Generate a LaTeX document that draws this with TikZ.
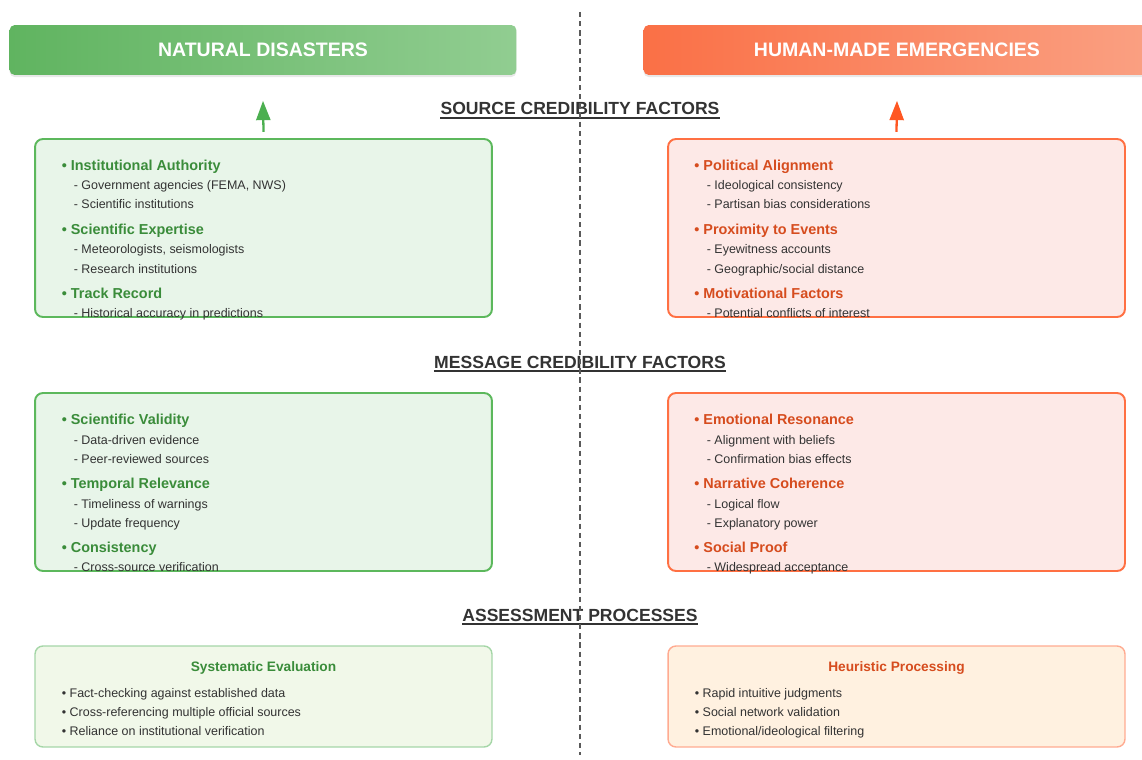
\documentclass[tikz,border=0pt]{standalone}
\usepackage{fontspec}
\setmainfont{Liberation Sans}
\usetikzlibrary{arrows.meta,shadows}

% colours taken from the two sides
\definecolor{natleft}{RGB}{96,180,96}
\definecolor{natright}{RGB}{145,205,145}
\definecolor{humleft}{RGB}{250,112,70}
\definecolor{humright}{RGB}{250,160,130}
\definecolor{natline}{RGB}{92,184,92}
\definecolor{natfill}{RGB}{232,245,233}
\definecolor{humline}{RGB}{255,112,67}
\definecolor{humfill}{RGB}{253,233,231}
\definecolor{natsoft}{RGB}{165,214,167}
\definecolor{natpale}{RGB}{241,248,233}
\definecolor{humsoft}{RGB}{255,171,145}
\definecolor{humpale}{RGB}{255,241,224}
\definecolor{nathead}{RGB}{58,140,58}
\definecolor{humhead}{RGB}{214,76,30}
\definecolor{natarrow}{RGB}{76,175,80}
\definecolor{humarrow}{RGB}{255,87,34}
\definecolor{bodygrey}{RGB}{51,51,51}
\definecolor{splitgrey}{RGB}{90,90,90}

\tikzset{
  headbox/.style={rounded corners=3pt, minimum width=10.14cm, minimum height=1cm,
    text=white, font=\fontsize{11.1}{13}\selectfont\bfseries,
    drop shadow={shadow xshift=0pt, shadow yshift=-1.2pt, opacity=0.18}},
  factorbox/.style={rounded corners=4.5pt, line width=1.1pt,
    minimum width=9.14cm, minimum height=3.56cm},
  procbox/.style={rounded corners=4.5pt, line width=0.8pt,
    minimum width=9.14cm, minimum height=2.02cm},
  sectitle/.style={font=\fontsize{10}{12}\selectfont\bfseries, text=bodygrey,
    inner sep=0pt, anchor=base},
  underline/.style={line width=1.1pt, bodygrey},
  itemhead/.style={font=\fontsize{8.2}{10}\selectfont\bfseries, anchor=base west, inner sep=0pt},
  itemsub/.style={font=\fontsize{7.1}{9}\selectfont, text=bodygrey, anchor=base west, inner sep=0pt},
  proctitle/.style={font=\fontsize{7.8}{9}\selectfont\bfseries, anchor=base, inner sep=0pt},
  uparrow/.style={line width=1.3pt, -{Triangle[length=11pt, width=8pt]}},
  divider/.style={line width=1.1pt, splitgrey, dash pattern=on 3pt off 2.2pt},
}

\begin{document}
\begin{tikzpicture}[x=0.02cm, y=-0.02cm]
  \useasboundingbox (0,0) rectangle (1142,760);

  % --- headers ---
  \node[headbox, left color=natleft, right color=natright] (natHead) at (263,50) {NATURAL DISASTERS};
  \node[headbox, left color=humleft, right color=humright] (humHead) at (897,50) {HUMAN-MADE EMERGENCIES};

  % --- source credibility ---
  \node[sectitle] (srcTitle) at (580,115) {SOURCE CREDIBILITY FACTORS};
  \draw[underline] ([yshift=-1.4pt]srcTitle.south west) -- ([yshift=-1.4pt]srcTitle.south east);

  \node[factorbox, draw=natline, fill=natfill] (srcL) at (263.5,228) {};
  \node[factorbox, draw=humline, fill=humfill] (srcR) at (896.5,228) {};

  \draw[uparrow, natarrow] ([yshift=3.5pt]srcL.north) -- ([yshift=-14.5pt]natHead.south);
  \draw[uparrow, humarrow] ([yshift=3.5pt]srcR.north) -- ([yshift=-14.5pt]humHead.south);

  \node[itemhead, text=nathead] (srcL1) at (61.5,170.7) {\textbullet\ Institutional Authority};
  \node[itemsub] (srcL1a) at (73.5,190) {- Government agencies (FEMA, NWS)};
  \node[itemsub] (srcL1b) at (73.5,209) {- Scientific institutions};
  \node[itemhead, text=nathead] (srcL2) at (61.5,234.7) {\textbullet\ Scientific Expertise};
  \node[itemsub] (srcL2a) at (73.5,254) {- Meteorologists, seismologists};
  \node[itemsub] (srcL2b) at (73.5,273) {- Research institutions};
  \node[itemhead, text=nathead] (srcL3) at (61.5,298.5) {\textbullet\ Track Record};
  \node[itemsub] (srcL3a) at (73.5,317) {- Historical accuracy in predictions};

  \node[itemhead, text=humhead] (srcR1) at (694,170.7) {\textbullet\ Political Alignment};
  \node[itemsub] (srcR1a) at (706.5,190) {- Ideological consistency};
  \node[itemsub] (srcR1b) at (706.5,209) {- Partisan bias considerations};
  \node[itemhead, text=humhead] (srcR2) at (694,234.7) {\textbullet\ Proximity to Events};
  \node[itemsub] (srcR2a) at (706.5,254) {- Eyewitness accounts};
  \node[itemsub] (srcR2b) at (706.5,273) {- Geographic/social distance};
  \node[itemhead, text=humhead] (srcR3) at (694,298.5) {\textbullet\ Motivational Factors};
  \node[itemsub] (srcR3a) at (706.5,317) {- Potential conflicts of interest};

  % --- message credibility ---
  \node[sectitle] (msgTitle) at (580,368) {MESSAGE CREDIBILITY FACTORS};
  \draw[underline] ([yshift=-1.4pt]msgTitle.south west) -- ([yshift=-1.4pt]msgTitle.south east);

  \node[factorbox, draw=natline, fill=natfill] (msgL) at (263.5,482) {};
  \node[factorbox, draw=humline, fill=humfill] (msgR) at (896.5,482) {};

  \node[itemhead, text=nathead] (msgL1) at (61.5,424.7) {\textbullet\ Scientific Validity};
  \node[itemsub] (msgL1a) at (73.5,444) {- Data-driven evidence};
  \node[itemsub] (msgL1b) at (73.5,463) {- Peer-reviewed sources};
  \node[itemhead, text=nathead] (msgL2) at (61.5,488.7) {\textbullet\ Temporal Relevance};
  \node[itemsub] (msgL2a) at (73.5,508) {- Timeliness of warnings};
  \node[itemsub] (msgL2b) at (73.5,527) {- Update frequency};
  \node[itemhead, text=nathead] (msgL3) at (61.5,552.5) {\textbullet\ Consistency};
  \node[itemsub] (msgL3a) at (73.5,571) {- Cross-source verification};

  \node[itemhead, text=humhead] (msgR1) at (694,424.7) {\textbullet\ Emotional Resonance};
  \node[itemsub] (msgR1a) at (706.5,444) {- Alignment with beliefs};
  \node[itemsub] (msgR1b) at (706.5,463) {- Confirmation bias effects};
  \node[itemhead, text=humhead] (msgR2) at (694,488.7) {\textbullet\ Narrative Coherence};
  \node[itemsub] (msgR2a) at (706.5,508) {- Logical flow};
  \node[itemsub] (msgR2b) at (706.5,527) {- Explanatory power};
  \node[itemhead, text=humhead] (msgR3) at (694,552.5) {\textbullet\ Social Proof};
  \node[itemsub] (msgR3a) at (706.5,571) {- Widespread acceptance};

  % --- assessment processes ---
  \node[sectitle] (procTitle) at (580,621) {ASSESSMENT PROCESSES};
  \draw[underline] ([yshift=-1.4pt]procTitle.south west) -- ([yshift=-1.4pt]procTitle.south east);

  \node[procbox, draw=natsoft, fill=natpale] (procL) at (263.5,696.5) {};
  \node[procbox, draw=humsoft, fill=humpale] (procR) at (896.5,696.5) {};

  \node[proctitle, text=nathead] (procLt) at (263.5,671) {Systematic Evaluation};
  \node[itemsub] (procL1) at (61.5,697) {\textbullet\ Fact-checking against established data};
  \node[itemsub] (procL2) at (61.5,716) {\textbullet\ Cross-referencing multiple official sources};
  \node[itemsub] (procL3) at (61.5,735.5) {\textbullet\ Reliance on institutional verification};

  \node[proctitle, text=humhead] (procRt) at (896.5,671) {Heuristic Processing};
  \node[itemsub] (procR1) at (694.5,697) {\textbullet\ Rapid intuitive judgments};
  \node[itemsub] (procR2) at (694.5,716) {\textbullet\ Social network validation};
  \node[itemsub] (procR3) at (694.5,735.5) {\textbullet\ Emotional/ideological filtering};

  % split line on top
  \coordinate (splitTop) at (580,12);
  \coordinate (splitBot) at (580,755);
  \draw[divider] (splitTop) -- (splitBot);
\end{tikzpicture}
\end{document}
